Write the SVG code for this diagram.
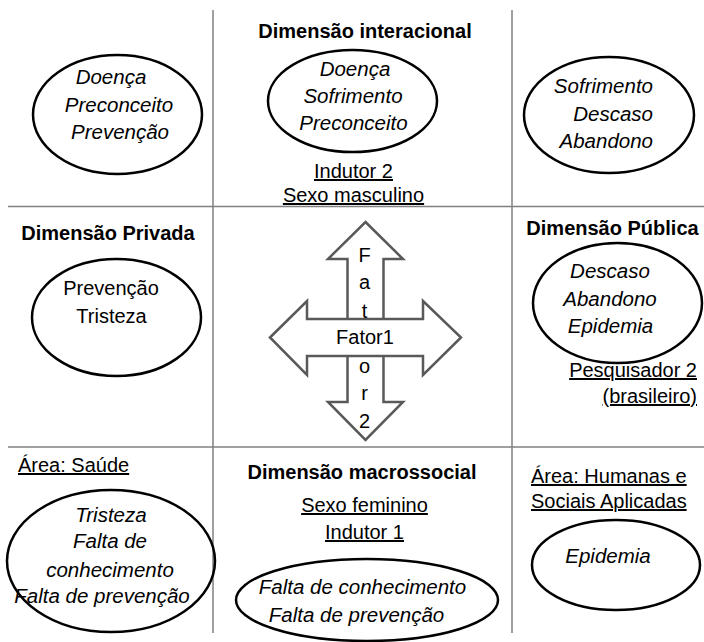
<svg xmlns="http://www.w3.org/2000/svg" width="704" height="642" viewBox="0 0 704 642">
<style>
text{font-family:"Liberation Sans",Arial,sans-serif;fill:#000;font-size:20px}
.b{font-weight:bold}
.i{font-style:italic;font-size:20.5px}
.u{text-decoration:underline}
.m{text-anchor:middle}
.e{text-anchor:end}
.ell{fill:none;stroke:#000;stroke-width:2.5}
.grid{stroke:#808080;stroke-width:1.5;fill:none}
.arr{fill:#fff;stroke:#595959;stroke-width:2.5;stroke-linejoin:miter}
</style>
<rect width="704" height="642" fill="#fff"/>
<g id="grid-lines">
<line class="grid" x1="213" y1="10" x2="213" y2="633"/>
<line class="grid" x1="512" y1="10" x2="512" y2="633"/>
<line class="grid" x1="8" y1="206.5" x2="704" y2="206.5"/>
<line class="grid" x1="8" y1="447" x2="704" y2="447"/>
</g>
<g id="top-left">
<ellipse class="ell" cx="117.5" cy="114.5" rx="84.5" ry="59.5"/>
<text class="i m" x="111" y="84">Doença</text>
<text class="i m" x="119" y="112">Preconceito</text>
<text class="i m" x="120" y="139">Prevenção</text>
</g>
<g id="top-middle">
<text class="b m" x="365" y="38">Dimensão interacional</text>
<ellipse class="ell" cx="352.5" cy="101" rx="84.5" ry="51"/>
<text class="i m" x="355" y="76">Doença</text>
<text class="i m" x="353" y="103">Sofrimento</text>
<text class="i m" x="353.5" y="130">Preconceito</text>
<text class="u m" x="353.5" y="178">Indutor 2</text>
<text class="u m" x="353.5" y="202">Sexo masculino</text>
</g>
<g id="top-right">
<ellipse class="ell" cx="609" cy="115" rx="85" ry="58"/>
<text class="i e" x="653" y="93">Sofrimento</text>
<text class="i e" x="653" y="121">Descaso</text>
<text class="i e" x="653" y="148">Abandono</text>
</g>
<g id="middle-left">
<text class="b m" x="108" y="240">Dimensão Privada</text>
<ellipse class="ell" cx="116.5" cy="317.5" rx="84.5" ry="58.5"/>
<text class="m" x="111" y="295">Prevenção</text>
<text class="m" x="111.5" y="323">Tristeza</text>
</g>
<g id="center-arrows">
<polygon class="arr" points="365.5,222 403,259 383.5,259 383.5,402 403,402 365.5,440 328,402 347.5,402 347.5,259 328,259"/>
<polygon class="arr" points="270,337.5 307,301 307,319 423,319 423,301 461,337.5 423,375 423,356 307,356 307,375"/>
<text class="m" x="364.5" y="262">F</text>
<text class="m" x="364.5" y="289">a</text>
<text class="m" x="364.5" y="318">t</text>
<text class="m" x="365" y="344">Fator1</text>
<text class="m" x="364.5" y="373">o</text>
<text class="m" x="364.5" y="400">r</text>
<text class="m" x="364.5" y="428">2</text>
</g>
<g id="middle-right">
<text class="b m" x="612.5" y="235">Dimensão Pública</text>
<ellipse class="ell" cx="617.5" cy="303" rx="84.5" ry="60"/>
<text class="i m" x="610" y="278">Descaso</text>
<text class="i m" x="610" y="306">Abandono</text>
<text class="i m" x="610.5" y="333">Epidemia</text>
<text class="u e" x="697" y="377">Pesquisador 2</text>
<text class="u e" x="697" y="403">(brasileiro)</text>
</g>
<g id="bottom-left">
<text class="u" x="18" y="472">Área: Saúde</text>
<ellipse class="ell" cx="111" cy="561" rx="104" ry="71"/>
<text class="i m" x="111" y="522">Tristeza</text>
<text class="i m" x="110" y="548">Falta de</text>
<text class="i m" x="110" y="577">conhecimento</text>
<text class="i m" x="102" y="603">Falta de prevenção</text>
</g>
<g id="bottom-middle">
<text class="b m" x="362" y="479">Dimensão macrossocial</text>
<text class="u m" x="364.5" y="512">Sexo feminino</text>
<text class="u m" x="364.5" y="539">Indutor 1</text>
<ellipse class="ell" cx="367" cy="600" rx="131" ry="41"/>
<text class="i m" x="362.5" y="594">Falta de conhecimento</text>
<text class="i m" x="356.5" y="622">Falta de prevenção</text>
</g>
<g id="bottom-right">
<text class="u" x="531" y="483">Área: Humanas e</text>
<text class="u" x="531" y="508">Sociais Aplicadas</text>
<ellipse class="ell" cx="616" cy="565" rx="84" ry="45"/>
<text class="i m" x="608" y="563">Epidemia</text>
</g>
</svg>
